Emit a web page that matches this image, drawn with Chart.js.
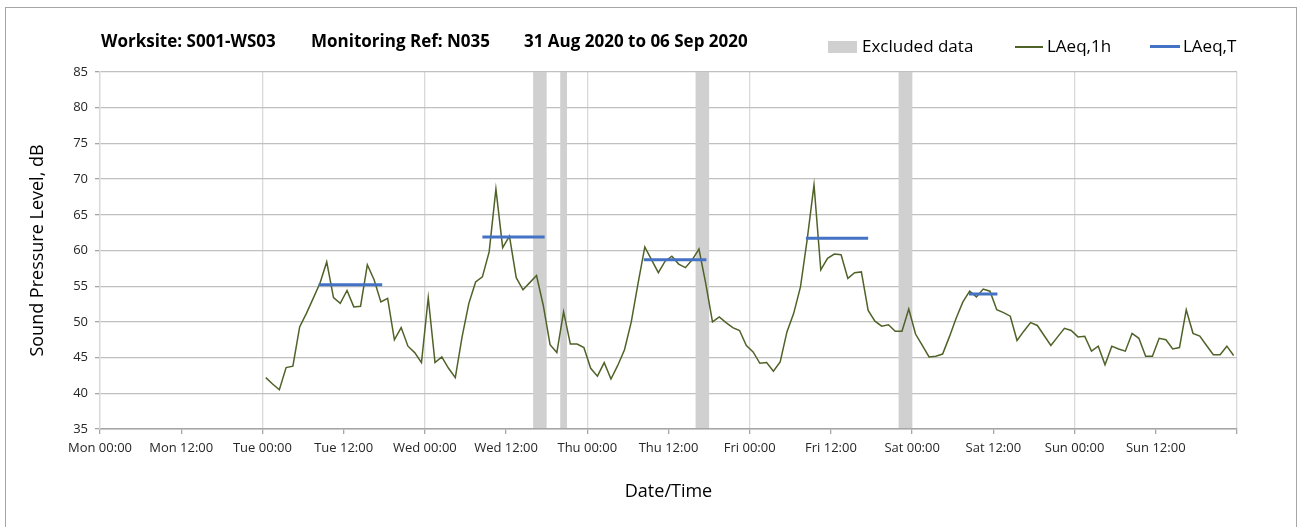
<!DOCTYPE html>
<html>
<head>
<meta charset="utf-8">
<script src="https://cdn.jsdelivr.net/npm/chart.js@4.4.1/dist/chart.umd.min.js"></script>
<style>
  html, body { margin: 0; padding: 0; background: #fff; }
  body { width: 1304px; height: 527px; position: relative; overflow: hidden; font-family: 'Open Sans', sans-serif; color: #000; }
  #frame { position: absolute; left: 5px; top: 7px; width: 1292px; height: 540px; border: 1px solid #a6a6a6; box-sizing: border-box; }
  #wrap { position: absolute; left: 0; top: 0; width: 1304px; height: 527px; }
  .ttl { position: absolute; top: 31px; line-height: 20px; font-size: 17px; font-weight: bold; white-space: nowrap; }
  .leg { position: absolute; top: 36px; line-height: 20px; font-size: 17px; white-space: nowrap; }
  .key { position: absolute; }
</style>
</head>
<body>
<div id="frame"></div>
<div id="wrap"><canvas id="noiseChart"></canvas></div>

<div class="ttl" style="left:101px">Worksite: S001-WS03</div>
<div class="ttl" style="left:311px">Monitoring Ref: N035</div>
<div class="ttl" style="left:524px">31 Aug 2020 to 06 Sep 2020</div>

<div class="key" style="left:828px; top:41px; width:29px; height:12px; background:#d0d0d0"></div>
<div class="leg" style="left:862px">Excluded data</div>
<div class="key" style="left:1015px; top:46px; width:28px; height:1.5px; background:#4f6228"></div>
<div class="leg" style="left:1047px">LAeq,1h</div>
<div class="key" style="left:1150px; top:45px; width:30px; height:3px; background:#4472c4"></div>
<div class="leg" style="left:1183px">LAeq,T</div>

<script>
// hours counted from Mon 00:00, one reading per hour starting Tue 00:30
const firstHour = 24.5;
const laeq1h = [
  // Tue
  42.2, 41.3, 40.5, 43.6, 43.8, 49.3, 51.2, 53.3, 55.4, 58.4, 53.4, 52.6,
  54.4, 52.1, 52.2, 58.0, 55.9, 52.8, 53.3, 47.5, 49.2, 46.6, 45.7, 44.3,
  // Wed
  53.4, 44.3, 45.1, 43.5, 42.2, 47.9, 52.6, 55.6, 56.3, 59.8, 68.6, 60.4,
  62.0, 56.2, 54.5, 55.5, 56.5, 52.3, 46.8, 45.7, 51.4, 46.9, 46.9, 46.4,
  // Thu
  43.5, 42.4, 44.3, 42.0, 43.9, 46.1, 50.0, 55.4, 60.5, 58.7, 56.9, 58.5,
  59.2, 58.1, 57.6, 58.7, 60.2, 55.4, 50.0, 50.7, 49.9, 49.2, 48.8, 46.7,
  // Fri
  45.8, 44.2, 44.3, 43.1, 44.4, 48.6, 51.2, 54.9, 61.6, 69.2, 57.3, 58.9,
  59.5, 59.4, 56.1, 56.9, 57.0, 51.6, 50.1, 49.4, 49.6, 48.7, 48.7, 51.8,
  // Sat
  48.3, 46.7, 45.1, 45.2, 45.5, 47.9, 50.5, 52.8, 54.3, 53.5, 54.6, 54.3,
  51.7, 51.3, 50.8, 47.4, 48.7, 49.9, 49.5, 48.1, 46.7, 47.9, 49.1, 48.8,
  // Sun
  47.9, 48.0, 45.9, 46.6, 44.0, 46.6, 46.2, 45.9, 48.4, 47.7, 45.2, 45.2,
  47.7, 47.5, 46.2, 46.4, 51.7, 48.4, 48.0, 46.7, 45.4, 45.4, 46.6, 45.3
];

// LAeq,T periods
const periodStart = [32.3, 56.5, 80.35, 104.3, 128.4];
const periodEnd = [41.7, 65.7, 89.6, 113.5, 132.6];
const periodLevel = [55.2, 61.9, 58.7, 61.7, 53.9];

// excluded data windows
const excludedStart = [64, 68, 88, 118];
const excludedEnd = [66, 69, 90, 120];

const tickLabels = ['Mon 00:00', 'Mon 12:00', 'Tue 00:00', 'Tue 12:00', 'Wed 00:00', 'Wed 12:00',
  'Thu 00:00', 'Thu 12:00', 'Fri 00:00', 'Fri 12:00', 'Sat 00:00', 'Sat 12:00',
  'Sun 00:00', 'Sun 12:00', ''];

const hourlyPoints = laeq1h.map((v, i) => ({x: firstHour + i, y: v}));
const periodPoints = [];
periodStart.forEach((s, i) => {
  periodPoints.push({x: s, y: periodLevel[i]});
  periodPoints.push({x: periodEnd[i], y: periodLevel[i]});
  periodPoints.push({x: periodEnd[i], y: null});
});

const excludedBands = {
  id: 'excludedBands',
  beforeDatasetsDraw(chart) {
    const {ctx, chartArea, scales: {x}} = chart;
    ctx.save();
    ctx.fillStyle = '#d0d0d0';
    excludedStart.forEach((s, i) => {
      const x0 = x.getPixelForValue(s);
      const x1 = x.getPixelForValue(excludedEnd[i]);
      ctx.fillRect(x0, chartArea.top, x1 - x0, chartArea.bottom - chartArea.top - 1);
    });
    ctx.restore();
  }
};

Chart.defaults.font.family = "'Open Sans', sans-serif";
Chart.defaults.color = '#262626';

const ctx = document.getElementById('noiseChart').getContext('2d');
const noiseChart = new Chart(ctx, {
  type: 'line',
  data: {
    datasets: [{
      label: 'LAeq,T',
      data: periodPoints,
      borderColor: '#4472c4',
      borderWidth: 3,
      pointRadius: 0,
      spanGaps: false,
      order: 0
    }, {
      label: 'LAeq,1h',
      data: hourlyPoints,
      borderColor: '#4f6228',
      borderWidth: 1.5,
      pointRadius: 0,
      tension: 0,
      order: 1
    }]
  },
  options: {
    responsive: true,
    maintainAspectRatio: false,
    animation: false,
    layout: { padding: { left: 0, top: 72, right: 67, bottom: 0 } },
    plugins: {
      legend: { display: false },
      title: { display: false },
      tooltip: { enabled: false }
    },
    scales: {
      x: {
        type: 'linear',
        min: 0,
        max: 168,
        afterFit: (scale) => { scale.height = 98; },
        ticks: {
          stepSize: 12,
          autoSkip: false,
          maxRotation: 0,
          padding: 6,
          font: { size: 13 },
          callback: (v) => tickLabels[Math.round(v / 12)] || ''
        },
        grid: {
          color: (c) => (c.tick && c.tick.value % 24 === 0) ? '#d9d9d9' : 'rgba(0,0,0,0)',
          lineWidth: 1.3,
          tickColor: '#a6a6a6',
          tickLength: 5
        },
        border: { color: '#a6a6a6', width: 1.5 },
        title: {
          display: true,
          text: 'Date/Time',
          font: { size: 18 },
          color: '#000',
          padding: { top: 0, bottom: 24 }
        }
      },
      y: {
        min: 35,
        max: 85,
        afterFit: (scale) => { scale.width = 100; },
        ticks: {
          stepSize: 5,
          padding: 7,
          font: { size: 13 }
        },
        grid: {
          color: '#c0c0c0',
          lineWidth: 1.3,
          tickColor: '#a6a6a6',
          tickLength: 5
        },
        border: { color: '#d9d9d9', width: 1.3 },
        title: {
          display: true,
          text: 'Sound Pressure Level, dB',
          font: { size: 18 },
          color: '#000',
          padding: { top: 27, bottom: 0 }
        }
      }
    }
  },
  plugins: [excludedBands]
});
</script>
</body>
</html>
